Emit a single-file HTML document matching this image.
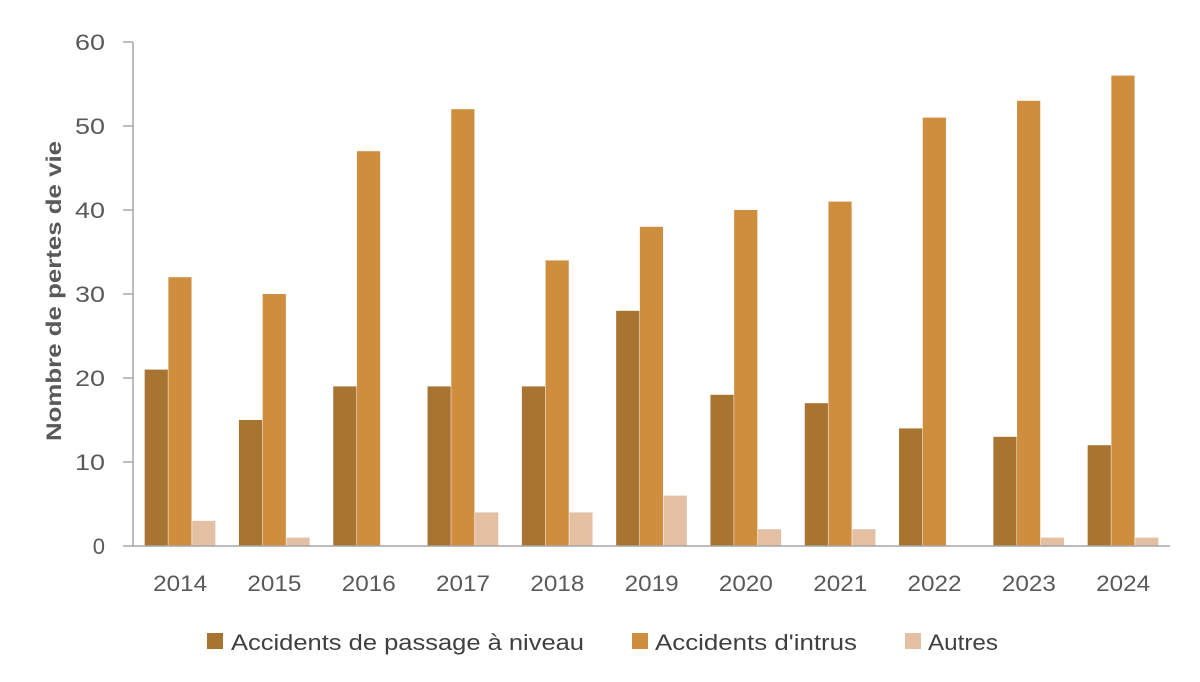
<!DOCTYPE html>
<html><head><meta charset="utf-8"><style>body{margin:0;background:#fff}</style></head><body>
<svg width="1200" height="677" xmlns="http://www.w3.org/2000/svg" font-family="Liberation Sans, sans-serif">
<g id="bars"></g>
<line x1="133" y1="42" x2="133" y2="546" stroke="#a6a6a6" stroke-width="1.5"/>
<line x1="123" y1="546" x2="1170" y2="546" stroke="#a6a6a6" stroke-width="1.5"/>
<g stroke="#a6a6a6" stroke-width="1.5">
<line x1="123" y1="42" x2="133" y2="42"/><line x1="123" y1="126" x2="133" y2="126"/><line x1="123" y1="210" x2="133" y2="210"/><line x1="123" y1="294" x2="133" y2="294"/><line x1="123" y1="378" x2="133" y2="378"/><line x1="123" y1="462" x2="133" y2="462"/>
</g>
<g font-size="22" fill="#595959" text-anchor="end">
<text x="105" y="50" textLength="30" lengthAdjust="spacingAndGlyphs">60</text><text x="105" y="134" textLength="30" lengthAdjust="spacingAndGlyphs">50</text><text x="105" y="218" textLength="30" lengthAdjust="spacingAndGlyphs">40</text><text x="105" y="302" textLength="30" lengthAdjust="spacingAndGlyphs">30</text><text x="105" y="386" textLength="30" lengthAdjust="spacingAndGlyphs">20</text><text x="105" y="470" textLength="30" lengthAdjust="spacingAndGlyphs">10</text><text x="105" y="554">0</text>
</g>
<text transform="translate(61,291) rotate(-90)" font-size="21" font-weight="bold" fill="#595959" text-anchor="middle" textLength="300" lengthAdjust="spacingAndGlyphs">Nombre de pertes de vie</text>
<g id="xl" font-size="22" fill="#595959" text-anchor="middle"></g>
<g font-size="22" fill="#404040">
<rect x="207" y="633" width="16" height="16" fill="#a87432"/><text x="231" y="650" textLength="353" lengthAdjust="spacingAndGlyphs">Accidents de passage à niveau</text>
<rect x="632" y="633" width="16" height="16" fill="#cf8e3e"/><text x="655" y="650" textLength="202" lengthAdjust="spacingAndGlyphs">Accidents d'intrus</text>
<rect x="905" y="633" width="16" height="16" fill="#e3c0a4"/><text x="928" y="650" textLength="70" lengthAdjust="spacingAndGlyphs">Autres</text>
</g>
<script>
var a=[21,15,19,19,19,28,18,17,14,13,12],b=[32,30,47,52,34,38,40,41,51,53,56],c=[3,1,0,4,4,6,2,2,0,1,1];
var g=document.getElementById('bars'),x=document.getElementById('xl'),ns='http://www.w3.org/2000/svg';
function r(X,v,col){if(!v)return;var e=document.createElementNS(ns,'rect');e.setAttribute('x',X);e.setAttribute('y',546-v*8.4);e.setAttribute('width',23.2);e.setAttribute('height',v*8.4);e.setAttribute('fill',col);g.appendChild(e);}
for(var i=0;i<11;i++){var cx=133+94.3*(i+0.5);r(cx-35.5,a[i],'#a87432');r(cx-11.8,b[i],'#cf8e3e');r(cx+12,c[i],'#e3c0a4');
var t=document.createElementNS(ns,'text');t.setAttribute('x',cx);t.setAttribute('y',591);t.setAttribute('textLength',54);t.setAttribute('lengthAdjust','spacingAndGlyphs');t.textContent=2014+i;x.appendChild(t);}
</script>
</svg>
</body></html>
